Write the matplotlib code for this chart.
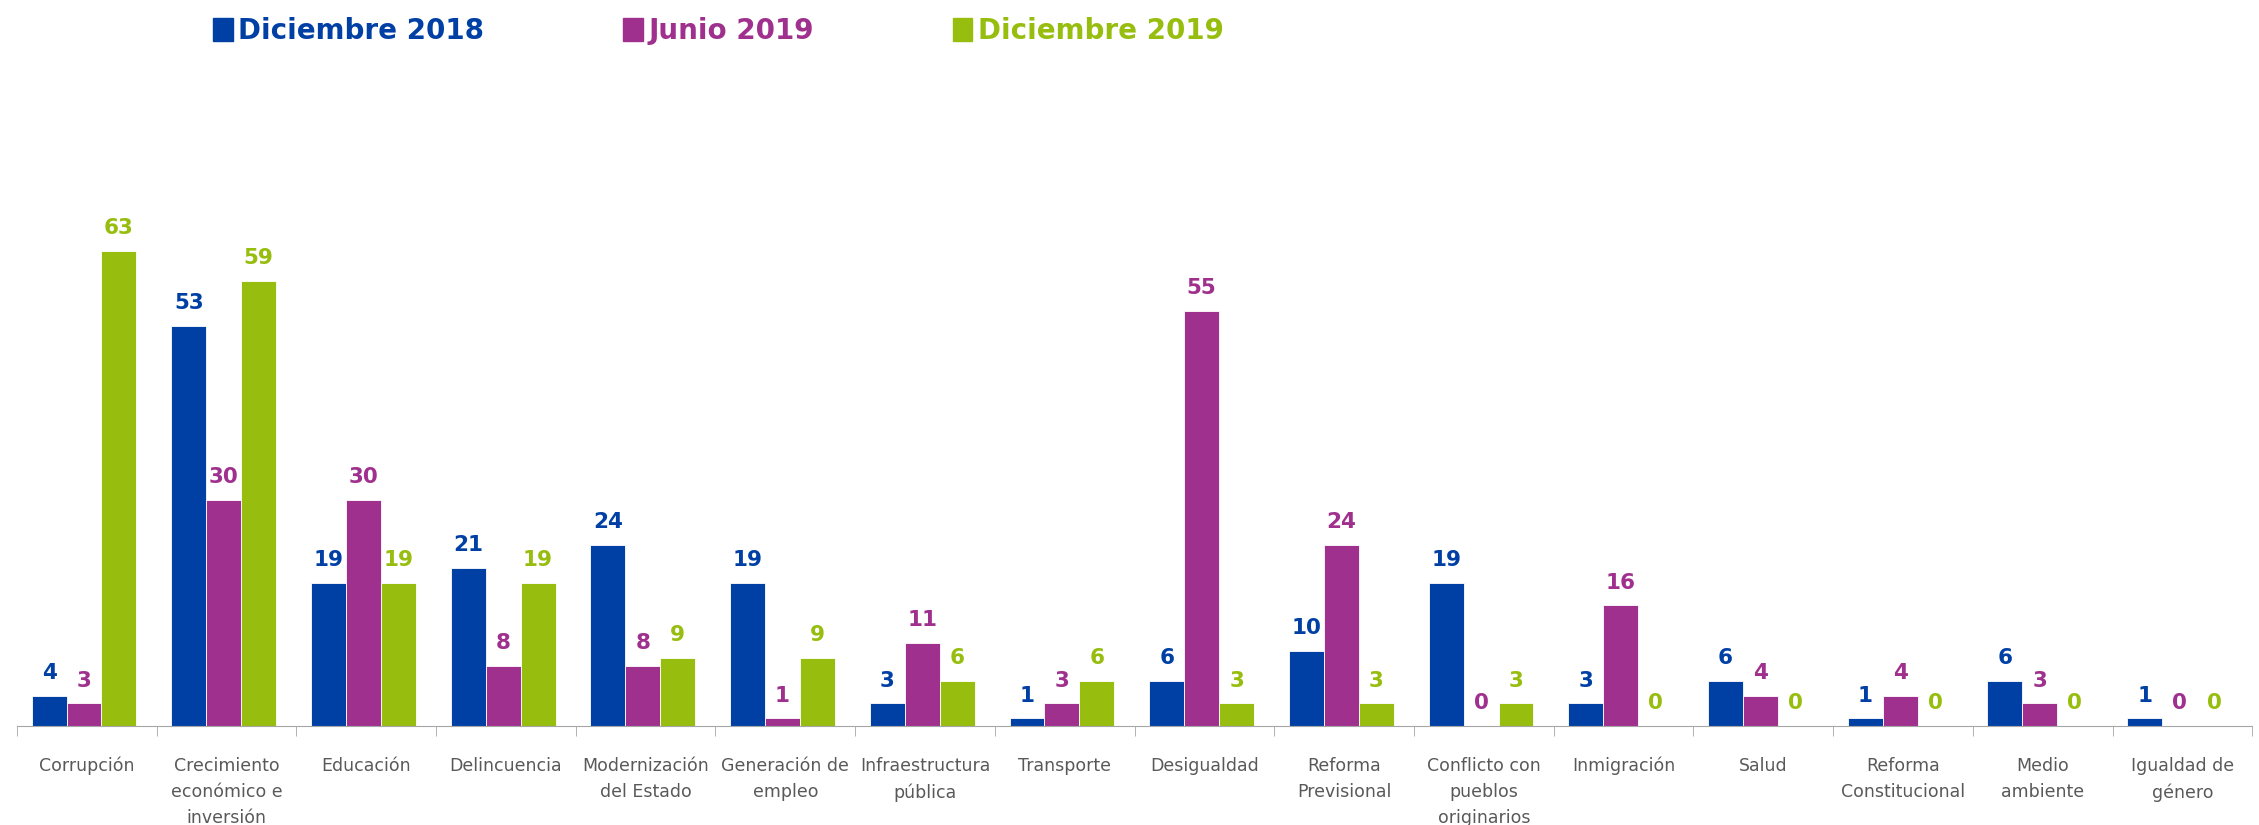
import numpy as np
import matplotlib.pyplot as plt
from matplotlib.patches import Patch

# categorias y valores
categorias = ["Corrupción", "Crecimiento\neconómico e\ninversión", "Educación",
              "Delincuencia", "Modernización\ndel Estado", "Generación de\nempleo",
              "Infraestructura\npública", "Transporte", "Desigualdad",
              "Reforma\nPrevisional", "Conflicto con\npueblos\noriginarios",
              "Inmigración", "Salud", "Reforma\nConstitucional",
              "Medio\nambiente", "Igualdad de\ngénero"]
dic_2018 = [4, 53, 19, 21, 24, 19, 3, 1, 6, 10, 19, 3, 6, 1, 6, 1]
jun_2019 = [3, 30, 30, 8, 8, 1, 11, 3, 55, 24, 0, 16, 4, 4, 3, 0]
dic_2019 = [63, 59, 19, 19, 9, 9, 6, 6, 3, 3, 3, 0, 0, 0, 0, 0]
series = ["Diciembre 2018", "Junio 2019", "Diciembre 2019"]

colores = ["#0040A5", "#A0308E", "#97BE0F"]

fig = plt.figure(figsize=(22.59, 8.25), dpi=100)
ax = fig.add_axes([0.0075, 0.12, 0.9895, 0.81])

x = np.arange(len(categorias))
w = 0.25
for i, (vals, col) in enumerate(zip([dic_2018, jun_2019, dic_2019], colores)):
    pos = x + (i - 1) * w - 0.02
    ax.bar(pos, vals, width=w, color=col, edgecolor="white", linewidth=0.6)
    for p, v in zip(pos, vals):
        ax.text(p, v + 1.7, str(v), ha="center", va="bottom", color=col,
                fontsize=15.5, fontweight="bold")

ax.set_xlim(-0.5, len(categorias) - 0.5)
ax.set_ylim(0, 88.6)
ax.set_xticks(x)
ax.set_xticklabels(categorias, fontsize=12.5, color="#595959", linespacing=1.6)
ax.set_xticks(np.arange(len(categorias) + 1) - 0.5, minor=True)
ax.tick_params(axis="x", which="major", length=0, pad=22)
ax.tick_params(axis="x", which="minor", length=7, color="#A6A6A6")
ax.set_yticks([])
for s in ["top", "right", "left"]:
    ax.spines[s].set_visible(False)
ax.spines["bottom"].set_color("#A6A6A6")

handles = [Patch(color=c) for c in colores]
leg = fig.legend(handles, series, loc="upper center", bbox_to_anchor=(0.318, 1.01),
                 ncol=3, frameon=False, handlelength=0.7, handleheight=0.9,
                 handletextpad=0.2, columnspacing=5.0,
                 prop={"size": 20, "weight": "bold"})
for t, c in zip(leg.get_texts(), colores):
    t.set_color(c)

fig.savefig("out.png", dpi=100)
